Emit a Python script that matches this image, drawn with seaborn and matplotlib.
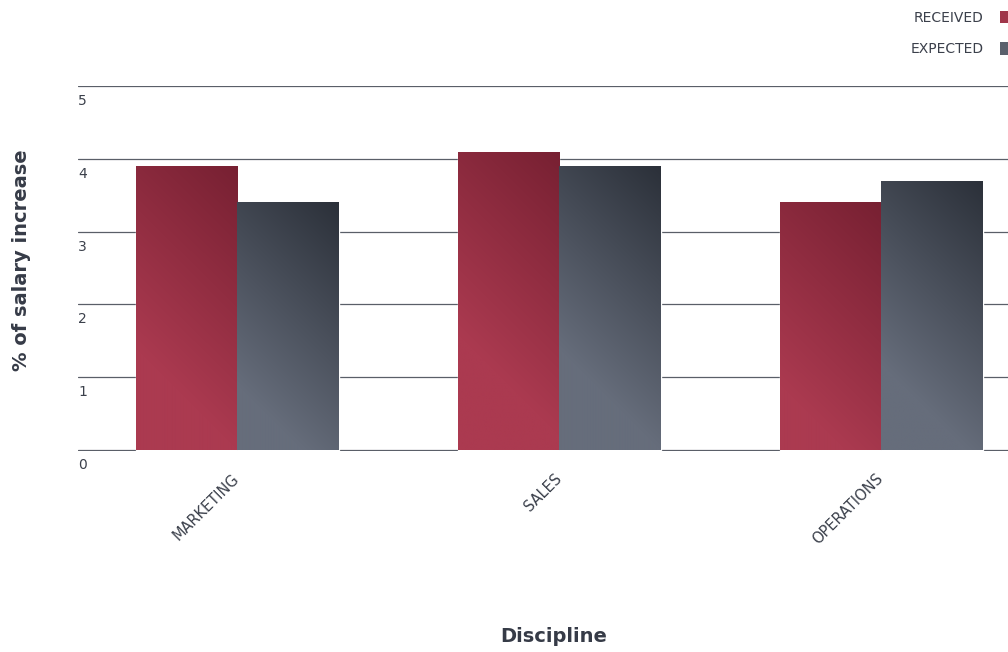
import numpy as np
import pandas as pd
import matplotlib
matplotlib.use("Agg")
import matplotlib.pyplot as plt
import matplotlib.transforms as mtransforms
from matplotlib.patches import Patch
import seaborn as sns

# Chart data
disciplines = ["MARKETING", "SALES", "OPERATIONS"]
series_names = ["RECEIVED", "EXPECTED"]
received = [3.9, 4.1, 3.4]
expected = [3.4, 3.9, 3.7]
y_ticks = [0, 1, 2, 3, 4, 5]

df = pd.DataFrame({
    "Discipline": disciplines * 2,
    "Series": [series_names[0]] * len(disciplines) + [series_names[1]] * len(disciplines),
    "Value": received + expected,
})

# Gradient endpoints per series: (dark top-right, light bottom-left)
grad = {
    "RECEIVED": ("#772032", "#ab3a50"),
    "EXPECTED": ("#2b3039", "#666d7b"),
}
base_colors = {"RECEIVED": "#a0364a", "EXPECTED": "#5a606c"}
text_color = "#3b404b"

sns.set_theme(style="white")
plt.rcParams["font.family"] = ["DejaVu Sans"]

fig = plt.figure(figsize=(10.08, 6.52), dpi=100)
ax = fig.add_axes([78 / 1008, 201 / 652, 930 / 1008, 365 / 652])

sns.barplot(data=df, x="Discipline", y="Value", hue="Series",
            palette=base_colors, width=0.63, gap=0, saturation=1,
            legend=False, ax=ax, zorder=2)

XLIM = (-0.494, 2.394)
YLIM = (-0.014, 5)
ax.set_xlim(*XLIM)
ax.set_ylim(*YLIM)
ax.set_yticks(y_ticks)
ax.yaxis.grid(True, color="#5a5f68", linewidth=0.9)
ax.xaxis.grid(False)
ax.set_axisbelow(True)
for s in ax.spines.values():
    s.set_visible(False)

# Diagonal gradient fill laid over each bar
fig.canvas.draw()
n_cat = len(disciplines)
D = 200.0
for i, bar in enumerate(ax.patches[: 2 * n_cat]):
    series = series_names[i // n_cat]
    dark = np.array(matplotlib.colors.to_rgb(grad[series][0]))
    light = np.array(matplotlib.colors.to_rgb(grad[series][1]))
    x0, y0 = bar.get_x(), bar.get_y()
    x1, y1 = x0 + bar.get_width(), y0 + bar.get_height()
    (px0, py0), (px1, py1) = ax.transData.transform([(x0, y0), (x1, y1)])
    w_px = max(int(round(px1 - px0)), 2)
    h_px = max(int(round(py1 - py0)), 2)
    xx, yy = np.meshgrid(np.arange(w_px), np.arange(h_px))
    d = ((w_px - 1 - xx) + yy) / np.sqrt(2)
    t = np.clip(d / D, 0, 1)[..., None]
    img = dark * (1 - t) + light * t
    im = ax.imshow(img, extent=(x0, x1, y0, y1), origin="upper",
                   aspect="auto", interpolation="bilinear", zorder=3)
    im.set_clip_path(bar)

ax.set_xlim(*XLIM)
ax.set_ylim(*YLIM)

# Y tick labels sit inside the plot, just below their gridlines
ax.tick_params(axis="y", length=0, pad=0, labelsize=10, labelcolor=text_color)
offset = mtransforms.ScaledTranslation(0 / 100, -8 / 100, fig.dpi_scale_trans)
for lab in ax.get_yticklabels():
    lab.set_ha("left")
    lab.set_va("top")
    lab.set_transform(lab.get_transform() + offset)

ax.tick_params(axis="x", length=0, pad=18, labelsize=10.5, labelcolor=text_color)
for lab in ax.get_xticklabels():
    lab.set_rotation(45)
    lab.set_ha("right")
    lab.set_va("center")
    lab.set_rotation_mode("anchor")

ax.set_xlabel("")
ax.set_ylabel("")
fig.text(554 / 1008, 1 - 636 / 652, "Discipline", ha="center", va="center",
         fontsize=14, fontweight="bold", color="#363b47")
fig.text(22 / 1008, 1 - 260 / 652, "% of salary increase", ha="center", va="center",
         rotation=90, fontsize=14, fontweight="bold", color="#363b47")

handles = [Patch(facecolor=base_colors[s], edgecolor="none") for s in series_names]
fig.legend(handles, series_names, loc="upper right",
           bbox_to_anchor=(1014 / 1008, 1 - 11 / 652), frameon=False,
           markerfirst=False, fontsize=10, labelcolor=text_color,
           handlelength=1.0, handleheight=1.0, handletextpad=1.2,
           labelspacing=1.25, borderpad=0, borderaxespad=0)

fig.savefig("out.png", dpi=100, facecolor="white")
